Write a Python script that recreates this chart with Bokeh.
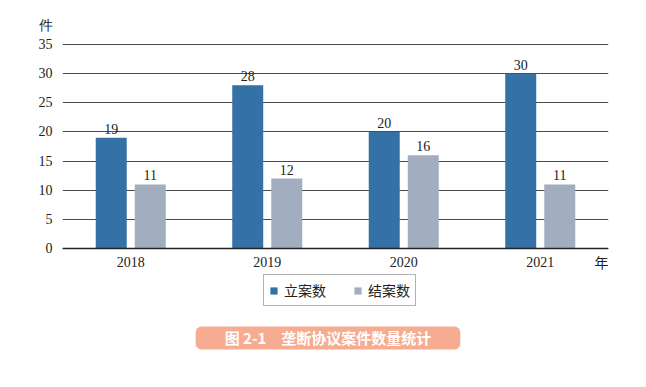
from bokeh.plotting import figure
from bokeh.models import ColumnDataSource, Legend, LegendItem, Label, Span, FactorRange
from bokeh.transform import dodge
from bokeh.embed import file_html
from bokeh.resources import INLINE

years = ["2018", "2019", "2020", "2021"]
filed = [19, 28, 20, 30]      # 立案数
closed = [11, 12, 16, 11]     # 结案数
series_names = ["立案数", "结案数"]
y_ticks = [0, 5, 10, 15, 20, 25, 30, 35]
y_unit = "件"
x_unit = "年"
title_text = "图 2-1\u3000垄断协议案件数量统计"

SERIF = "Liberation Serif"
CJK = "Noto Sans CJK SC"
BLUE = "#3471a6"
GRAY = "#a2adbf"
INK = "#222222"

src = ColumnDataSource(dict(years=years, filed=filed, closed=closed,
                            filed_lbl=[str(v) for v in filed],
                            closed_lbl=[str(v) for v in closed]))

# frame fills the full height so labels/legend below the zero line are not clipped
p = figure(x_range=FactorRange(*years, range_padding=0), y_range=(-21.79, 42.55),
           width=630, height=375, output_backend="svg", toolbar_location=None,
           min_border_left=62, min_border_right=22, min_border_top=0, min_border_bottom=0)
p.outline_line_color = None
p.background_fill_color = "white"
p.border_fill_color = "white"

bw = 0.227
off = 0.143
r1 = p.vbar(x=dodge("years", -off, range=p.x_range), top="filed", width=bw, source=src,
            fill_color=BLUE, line_color=None)
r2 = p.vbar(x=dodge("years", off, range=p.x_range), top="closed", width=bw, source=src,
            fill_color=GRAY, line_color=None)

p.text(x=dodge("years", -off, range=p.x_range), y="filed", text="filed_lbl", source=src,
       text_align="center", text_baseline="alphabetic", y_offset=-9,
       text_font={"value": SERIF}, text_font_size="14px", text_color=INK)
p.text(x=dodge("years", off, range=p.x_range), y="closed", text="closed_lbl", source=src,
       text_align="center", text_baseline="alphabetic", y_offset=-9,
       text_font={"value": SERIF}, text_font_size="14px", text_color=INK)

# year labels under the zero line
p.text(x="years", y=0, text="years", source=src, text_align="center",
       text_baseline="alphabetic", y_offset=14,
       text_font={"value": SERIF}, text_font_size="14px", text_color=INK)

# y axis (left, outside the frame); unit shown as an extra tick label at the top
unit_pos = 38.25
p.yaxis.ticker = y_ticks + [unit_pos]
p.yaxis.major_label_overrides = {unit_pos: y_unit}
p.yaxis.axis_line_color = None
p.yaxis.major_tick_line_color = None
p.yaxis.minor_tick_line_color = None
p.yaxis.major_label_text_font = SERIF
p.yaxis.major_label_text_font_size = "14px"
p.yaxis.major_label_text_color = INK
p.yaxis.major_label_standoff = 4

p.xaxis.visible = False
p.xgrid.grid_line_color = None
p.ygrid.ticker = y_ticks
p.ygrid.grid_line_color = "#4a4a4a"
p.ygrid.grid_line_width = 1
p.ygrid.level = "underlay"

p.add_layout(Span(location=0, dimension="width", line_color=INK, line_width=1.5))

p.add_layout(Label(x=4, y=-2.4, text=x_unit, text_font=CJK, text_font_size="14px",
                   text_color=INK, text_align="right", text_baseline="middle"))

legend = Legend(items=[LegendItem(label=series_names[0], renderers=[r1]),
                       LegendItem(label=series_names[1], renderers=[r2])],
                orientation="horizontal", location=(201, 69),
                label_text_font=CJK, label_text_font_size="14px", label_text_color=INK,
                border_line_color="#666666", border_line_width=1.2,
                glyph_width=9, glyph_height=9, spacing=27, padding=5, margin=0,
                label_standoff=6, label_height=16)
p.add_layout(legend)

p.add_layout(Label(x=1.945, y=-15.35, text=title_text, text_font=CJK, text_font_size="15px",
                   text_font_style="bold", text_color="white", text_align="center",
                   text_baseline="middle", background_fill_color="#f6ac91",
                   padding=(29, 1), border_radius=6))

open("out.html", "w").write(file_html(p, INLINE))
